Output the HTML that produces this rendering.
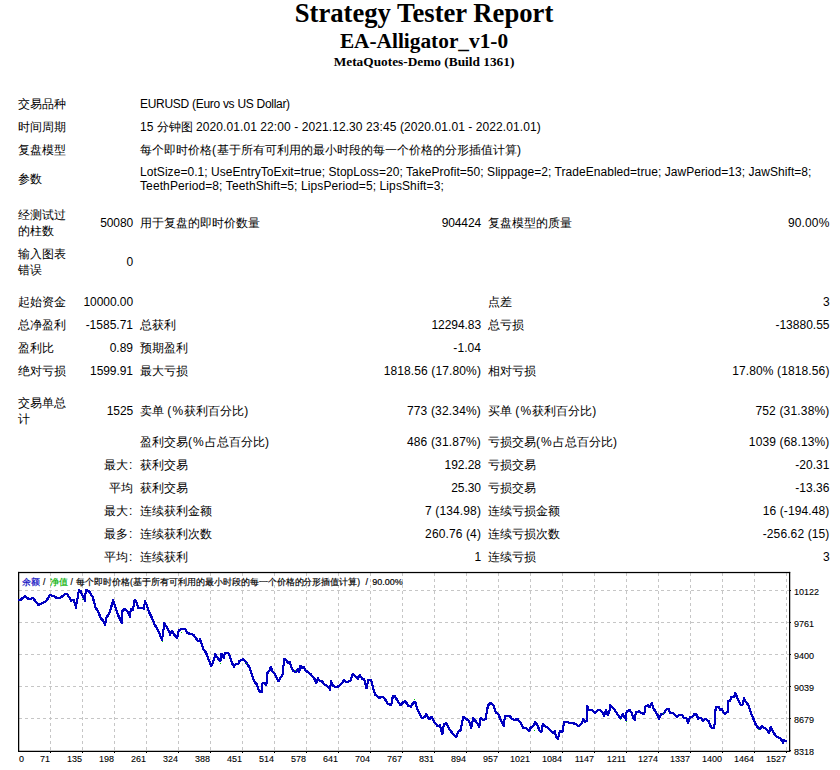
<!DOCTYPE html>
<html lang="zh">
<head>
<meta charset="utf-8">
<title>Strategy Tester: EA-Alligator_v1-0</title>
<style>
html,body{margin:0;padding:0;background:#fff;overflow:hidden;}
body{width:840px;height:770px;position:relative;overflow:hidden;color:#000;
 font-family:"Liberation Sans",sans-serif;font-size:12px;line-height:16px;}
.h{position:absolute;left:8px;width:832px;text-align:center;font-family:"Liberation Serif",serif;font-weight:bold;white-space:nowrap;}
.h1{top:-2px;font-size:26.67px;line-height:30px;}
.h2{top:29px;font-size:21.33px;line-height:24px;}
.h3{top:54px;font-size:13.33px;line-height:16px;}
.r{position:absolute;left:0;width:840px;height:16px;}
.r span{position:absolute;top:0;white-space:nowrap;}
i{font-style:normal;}
.p{letter-spacing:1.1px;}
.k{margin-left:1px;letter-spacing:.6px;}
.a{left:18px;}
.b{right:707px;text-align:right;}
.c{left:140px;}
.d{right:359px;text-align:right;}
.e{left:488px;}
.f{right:10.5px;text-align:right;}
#chart{position:absolute;left:0;top:566px;}
</style>
</head>
<body>
<div class="h h1">Strategy Tester Report</div>
<div class="h h2">EA-Alligator_v1-0</div>
<div class="h h3">MetaQuotes-Demo (Build 1361)</div>

<div class="r" style="top:96px"><span class="a">交易品种</span><span class="c" style="letter-spacing:-0.29px">EURUSD (Euro vs US Dollar)</span></div>
<div class="r" style="top:119px"><span class="a">时间周期</span><span class="c">15 分钟图 <i style="letter-spacing:0.085px">2020.01.01 22:00 - 2021.12.30 23:45 (2020.01.01 - 2022.01.01)</i></span></div>
<div class="r" style="top:142px"><span class="a">复盘模型</span><span class="c">每个即时价格<i class="p">(</i>基于所有可利用的最小时段的每一个价格的分形插值计算<i class="p">)</i></span></div>
<div class="r" style="top:171px"><span class="a">参数</span><span class="c" style="top:-6px;line-height:14px"><i style="letter-spacing:0.05px">LotSize=0.1; UseEntryToExit=true; StopLoss=20; TakeProfit=50; Slippage=2; TradeEnabled=true; JawPeriod=13; JawShift=8;</i><br><i style="letter-spacing:0.107px">TeethPeriod=8; TeethShift=5; LipsPeriod=5; LipsShift=3;</i></span></div>

<div class="r" style="top:215px"><span class="a" style="top:-8px">经测试过<br>的柱数</span><span class="b" style="letter-spacing:-0.12px">50080</span><span class="c">用于复盘的即时价数量</span><span class="d" style="letter-spacing:-0.12px">904424</span><span class="e">复盘模型的质量</span><span class="f" style="letter-spacing:0.14px">90.00%</span></div>
<div class="r" style="top:254px"><span class="a" style="top:-8px">输入图表<br>错误</span><span class="b" style="letter-spacing:-0.12px">0</span></div>

<div class="r" style="top:294px"><span class="a">起始资金</span><span class="b" style="letter-spacing:-0.07px">10000.00</span><span class="e">点差</span><span class="f" style="letter-spacing:-0.12px">3</span></div>
<div class="r" style="top:317px"><span class="a">总净盈利</span><span class="b">-1585.71</span><span class="c">总获利</span><span class="d" style="letter-spacing:-0.07px">12294.83</span><span class="e">总亏损</span><span class="f">-13880.55</span></div>
<div class="r" style="top:340px"><span class="a">盈利比</span><span class="b">0.89</span><span class="c">预期盈利</span><span class="d" style="letter-spacing:0.06px">-1.04</span></div>
<div class="r" style="top:363px"><span class="a">绝对亏损</span><span class="b" style="letter-spacing:-0.06px">1599.91</span><span class="c">最大亏损</span><span class="d" style="letter-spacing:0.12px">1818.56 (17.80%)</span><span class="e">相对亏损</span><span class="f" style="letter-spacing:0.12px">17.80% (1818.56)</span></div>

<div class="r" style="top:403px"><span class="a" style="top:-8px">交易单总<br>计</span><span class="b" style="letter-spacing:-0.12px">1525</span><span class="c">卖单 <i class="p">(%</i>获利百分比)</span><span class="d" style="letter-spacing:0.17px">773 (32.34%)</span><span class="e">买单 <i class="p">(%</i>获利百分比)</span><span class="f" style="letter-spacing:0.17px">752 (31.38%)</span></div>
<div class="r" style="top:434px"><span class="c">盈利交易<i class="p">(%</i>占总百分比)</span><span class="d" style="letter-spacing:0.17px">486 (31.87%)</span><span class="e">亏损交易<i class="p">(%</i>占总百分比)</span><span class="f" style="letter-spacing:0.15px">1039 (68.13%)</span></div>
<div class="r" style="top:457px"><span class="b">最大<i class="k">:</i></span><span class="c">获利交易</span><span class="d" style="letter-spacing:-0.05px">192.28</span><span class="e">亏损交易</span><span class="f" style="letter-spacing:0.03px">-20.31</span></div>
<div class="r" style="top:480px"><span class="b">平均</span><span class="c">获利交易</span><span class="d" style="letter-spacing:-0.04px">25.30</span><span class="e">亏损交易</span><span class="f" style="letter-spacing:0.03px">-13.36</span></div>
<div class="r" style="top:503px"><span class="b">最大<i class="k">:</i></span><span class="c">连续获利金额</span><span class="d" style="letter-spacing:0.12px">7 (134.98)</span><span class="e">连续亏损金额</span><span class="f" style="letter-spacing:0.12px">16 (-194.48)</span></div>
<div class="r" style="top:526px"><span class="b">最多<i class="k">:</i></span><span class="c">连续获利次数</span><span class="d" style="letter-spacing:0.12px">260.76 (4)</span><span class="e">连续亏损次数</span><span class="f" style="letter-spacing:0.12px">-256.62 (15)</span></div>
<div class="r" style="top:549px"><span class="b">平均<i class="k">:</i></span><span class="c">连续获利</span><span class="d" style="letter-spacing:-0.12px">1</span><span class="e">连续亏损</span><span class="f" style="letter-spacing:-0.12px">3</span></div>

<svg id="chart" width="840" height="204" viewBox="0 566 840 204" shape-rendering="crispEdges" font-family="'Liberation Sans', sans-serif">
<path d="M19 590.5H789 M19 622.5H789 M19 654.5H789 M19 686.5H789 M19 718.5H789" stroke="#c6c6c6" stroke-width="1" stroke-dasharray="3 3" fill="none"/>
<path d="M50.5 573V751 M82.5 573V751 M114.5 573V751 M146.5 573V751 M178.5 573V751 M210.5 573V751 M242.5 573V751 M274.5 573V751 M306.5 573V751 M338.5 573V751 M370.5 573V751 M402.5 573V751 M434.5 573V751 M466.5 573V751 M498.5 573V751 M530.5 573V751 M562.5 573V751 M594.5 573V751 M626.5 573V751 M658.5 573V751 M690.5 573V751 M722.5 573V751 M754.5 573V751 M786.5 573V751" stroke="#c6c6c6" stroke-width="1" stroke-dasharray="3 3" fill="none"/>
<g shape-rendering="auto" fill="#000">
<rect x="18" y="571.9" width="772.2" height="1.25"/>
<rect x="18" y="750.75" width="772.2" height="1.25"/>
<rect x="18" y="571.9" width="1.25" height="180.1"/>
<rect x="789" y="571.9" width="1.25" height="180.1"/>
</g>
<path d="M50.5 751V753 M82.5 751V753 M114.5 751V753 M146.5 751V753 M178.5 751V753 M210.5 751V753 M242.5 751V753 M274.5 751V753 M306.5 751V753 M338.5 751V753 M370.5 751V753 M402.5 751V753 M434.5 751V753 M466.5 751V753 M498.5 751V753 M530.5 751V753 M562.5 751V753 M594.5 751V753 M626.5 751V753 M658.5 751V753 M690.5 751V753 M722.5 751V753 M754.5 751V753 M786.5 751V753 M790 590.5H791.3 M790 622.5H791.3 M790 654.5H791.3 M790 686.5H791.3 M790 718.5H791.3 M790 750.5H791.3" stroke="#000" stroke-width="1" fill="none"/>
<g fill="none" stroke="#0000c0" stroke-width="1">
<polyline transform="translate(-0.5 -0.5)" points="18,599.7 20.7,599.7 24.9,596.1 28.7,599.1 33.2,598.2 38.6,605.2 46.2,601 50,594.9 53.8,596.1 57.3,598.2 60.7,597.6 65.2,594.1 67.5,594.6 71.3,600.6 73.6,600.2 75.9,606.7 79,590.3 80.5,591 82.8,596.4 85,600.2 85.8,590 88.9,591 92.7,597.1 95.7,607.8 98,611.6 101,618.5 103.3,620.8 105.2,624.6 106.4,617.7 109.4,613.1 111,607.8 113.2,600.2 115.5,607.8 117.8,614.7 122.1,623 122.4,610.9 124.7,608.6 127,610.9 130,616.2 130.8,609.3 133,610.1 134.6,600.2 136.1,601 138.4,607.8 142.2,607.8 143.7,608.6 145.2,601.7 146,602.9 149,612 152.1,618.1 154.4,624.2 158.2,630.3 162,640.2 164.3,623.4 167.3,628 170.1,634.1 171.9,631 174.2,634.9 177.2,637.9 178.8,630.3 182.6,628.8 185.3,629.5 187.1,632.6 190.2,634.1 193.2,634.6 196.3,638.7 198.6,641.7 200.1,639.4 203.1,648.6 206.2,653.1 208.5,659.2 211.2,666.1 213,662.3 215.3,654.7 217.6,657.7 220.4,661.5 221.4,653.9 223.7,657.7 225,653.1 228.1,652.6 230,656.4 231.9,662.9 233.9,666.4 236.1,664 238.6,663.6 239.3,661.4 242.9,659.3 245,660.7 247.9,665 250,668.6 252.1,675.7 254.3,681.4 256.7,684.3 259,691.4 261.9,691.7 262.4,683.6 264.3,682.9 266.4,685.4 267.1,673.6 269.3,670.7 270.7,667.1 272.9,672.1 274.7,673.6 276.7,677.9 278.6,681.4 280.7,677.4 282.9,674.3 283.9,659.3 286.1,659.7 287.9,662.6 289.6,661.7 291,666.4 293.3,670.7 295.7,672.1 298.1,669.3 299.3,672.1 300.4,665.7 302.4,668.3 303.9,667.1 305,670 310.7,674.3 314.3,678.6 316.4,682.9 318.1,678.6 320,681.4 322.1,681.4 324.3,684.3 327.1,685.7 330,689.3 331,681.4 332.9,685.7 335.7,686.9 338.6,686.4 341.4,683.6 344.3,680 346.7,682.6 350.5,680.3 352.8,674.2 355.8,676.5 358.1,678.8 359.6,675 362.7,679.5 364.2,678.8 366.5,688.7 368.4,679.8 371,679.8 373,687.4 374.9,694.3 379,698.1 381.3,696.6 384.4,698.1 387.4,703.4 391.2,705 392.8,696.6 394.7,695.8 397.3,700.4 400.4,705 403.4,701.9 405.4,701.1 408,705.7 411,706.5 413.3,702.7 415.2,701.9 417.1,708.8 419.4,713.3 421.7,717.9 424.8,717.1 426.3,714.1 429.3,719.4 431.6,717.1 434.7,722.5 437.7,726.3 440,725.5 442.3,734.7 443.8,724 446.1,723.2 449.1,728.6 452.2,733.1 456.3,737 458.3,731.6 460.6,730.1 462.4,721 463.6,716.4 466.7,719.4 469,721 471.2,727.8 473.1,718.7 475,720.2 477.3,723.2 479.2,727 480.7,717.9 483.4,720.2 485.7,718.7 487.3,708.8 488.4,705 490.7,703 493.7,705.7 496,712.6 498.3,714.1 501.3,721 503.6,725.5 505.1,716.4 509,715.6 512,718.7 515,720.2 517.3,718.7 520.4,722.5 523.4,727.8 526.5,728.6 529.1,730.9 531,727 533.3,726.3 535.2,722.5 537.1,724.8 539.4,730.1 541.3,732.4 542.8,724 544.8,726.3 547,727 550.1,730.1 553.1,733.1 554.7,731.6 556.2,737 558,738.5 560,730.9 562.3,732.4 564.1,722.5 566.9,721.7 569.9,723.2 573,723.2 575.7,724 578.3,726.3 581.3,724 583.3,719.4 585.1,721.7 586.7,721 587.1,705.7 589,710.3 591.2,709.5 595,712.6 598.1,710.3 600,710.3 602.3,711.8 604.1,715.6 605.8,710.3 607.6,714.9 609.4,711.8 610.1,705 612.2,707.2 614.5,709.5 616.8,713.3 619,716.4 620.6,717.9 622.6,714.1 624.4,717.1 625.9,719.4 626.7,711 629.7,710.3 631.7,712.6 633.2,717.9 634.7,719.4 635.8,712.6 638.9,711.5 641.1,713 644.2,714.1 645.7,705.7 648,705.4 649.5,707.2 651.8,703.4 653.3,708 655.6,711.8 657.9,715.6 659.1,718.7 661,714.1 664,713.3 666.3,709.5 668.6,709.1 670.4,713.3 672.4,712.6 674.7,714.9 677,717.1 679.2,714.9 682,714.6 683.8,717.9 686.1,717.9 688.1,722.5 689.9,717.1 692.2,717.1 694.5,714.1 696.3,714.6 698.3,718.7 700.6,717.6 703.3,721 705.1,718.7 708.6,721 710.9,727 713.4,728.6 714.7,724 715.4,710.3 716.5,706.9 718.9,706.9 720.5,710.3 722,709.5 723.5,712.6 725.3,713.6 727.6,711.8 728.4,701.1 730.2,700.8 731.4,696.6 733.7,697.3 735.2,693.5 736.8,696.6 739,701.9 741.3,705.4 742.9,704.2 743.9,698.1 745.9,701.9 748.2,705 750.5,711.8 752.8,717.1 755,723.2 757.3,727 759.6,729.3 761.6,726.3 764.2,727.8 766.5,729.3 769.2,733.1 770.6,727 772.6,730.9 774.9,734.7 777.1,737.4 780.2,737.7 782.9,742.3 784,740 787,742"/>
<polyline transform="translate(0.5 -0.5)" points="18,599.7 20.7,599.7 24.9,596.1 28.7,599.1 33.2,598.2 38.6,605.2 46.2,601 50,594.9 53.8,596.1 57.3,598.2 60.7,597.6 65.2,594.1 67.5,594.6 71.3,600.6 73.6,600.2 75.9,606.7 79,590.3 80.5,591 82.8,596.4 85,600.2 85.8,590 88.9,591 92.7,597.1 95.7,607.8 98,611.6 101,618.5 103.3,620.8 105.2,624.6 106.4,617.7 109.4,613.1 111,607.8 113.2,600.2 115.5,607.8 117.8,614.7 122.1,623 122.4,610.9 124.7,608.6 127,610.9 130,616.2 130.8,609.3 133,610.1 134.6,600.2 136.1,601 138.4,607.8 142.2,607.8 143.7,608.6 145.2,601.7 146,602.9 149,612 152.1,618.1 154.4,624.2 158.2,630.3 162,640.2 164.3,623.4 167.3,628 170.1,634.1 171.9,631 174.2,634.9 177.2,637.9 178.8,630.3 182.6,628.8 185.3,629.5 187.1,632.6 190.2,634.1 193.2,634.6 196.3,638.7 198.6,641.7 200.1,639.4 203.1,648.6 206.2,653.1 208.5,659.2 211.2,666.1 213,662.3 215.3,654.7 217.6,657.7 220.4,661.5 221.4,653.9 223.7,657.7 225,653.1 228.1,652.6 230,656.4 231.9,662.9 233.9,666.4 236.1,664 238.6,663.6 239.3,661.4 242.9,659.3 245,660.7 247.9,665 250,668.6 252.1,675.7 254.3,681.4 256.7,684.3 259,691.4 261.9,691.7 262.4,683.6 264.3,682.9 266.4,685.4 267.1,673.6 269.3,670.7 270.7,667.1 272.9,672.1 274.7,673.6 276.7,677.9 278.6,681.4 280.7,677.4 282.9,674.3 283.9,659.3 286.1,659.7 287.9,662.6 289.6,661.7 291,666.4 293.3,670.7 295.7,672.1 298.1,669.3 299.3,672.1 300.4,665.7 302.4,668.3 303.9,667.1 305,670 310.7,674.3 314.3,678.6 316.4,682.9 318.1,678.6 320,681.4 322.1,681.4 324.3,684.3 327.1,685.7 330,689.3 331,681.4 332.9,685.7 335.7,686.9 338.6,686.4 341.4,683.6 344.3,680 346.7,682.6 350.5,680.3 352.8,674.2 355.8,676.5 358.1,678.8 359.6,675 362.7,679.5 364.2,678.8 366.5,688.7 368.4,679.8 371,679.8 373,687.4 374.9,694.3 379,698.1 381.3,696.6 384.4,698.1 387.4,703.4 391.2,705 392.8,696.6 394.7,695.8 397.3,700.4 400.4,705 403.4,701.9 405.4,701.1 408,705.7 411,706.5 413.3,702.7 415.2,701.9 417.1,708.8 419.4,713.3 421.7,717.9 424.8,717.1 426.3,714.1 429.3,719.4 431.6,717.1 434.7,722.5 437.7,726.3 440,725.5 442.3,734.7 443.8,724 446.1,723.2 449.1,728.6 452.2,733.1 456.3,737 458.3,731.6 460.6,730.1 462.4,721 463.6,716.4 466.7,719.4 469,721 471.2,727.8 473.1,718.7 475,720.2 477.3,723.2 479.2,727 480.7,717.9 483.4,720.2 485.7,718.7 487.3,708.8 488.4,705 490.7,703 493.7,705.7 496,712.6 498.3,714.1 501.3,721 503.6,725.5 505.1,716.4 509,715.6 512,718.7 515,720.2 517.3,718.7 520.4,722.5 523.4,727.8 526.5,728.6 529.1,730.9 531,727 533.3,726.3 535.2,722.5 537.1,724.8 539.4,730.1 541.3,732.4 542.8,724 544.8,726.3 547,727 550.1,730.1 553.1,733.1 554.7,731.6 556.2,737 558,738.5 560,730.9 562.3,732.4 564.1,722.5 566.9,721.7 569.9,723.2 573,723.2 575.7,724 578.3,726.3 581.3,724 583.3,719.4 585.1,721.7 586.7,721 587.1,705.7 589,710.3 591.2,709.5 595,712.6 598.1,710.3 600,710.3 602.3,711.8 604.1,715.6 605.8,710.3 607.6,714.9 609.4,711.8 610.1,705 612.2,707.2 614.5,709.5 616.8,713.3 619,716.4 620.6,717.9 622.6,714.1 624.4,717.1 625.9,719.4 626.7,711 629.7,710.3 631.7,712.6 633.2,717.9 634.7,719.4 635.8,712.6 638.9,711.5 641.1,713 644.2,714.1 645.7,705.7 648,705.4 649.5,707.2 651.8,703.4 653.3,708 655.6,711.8 657.9,715.6 659.1,718.7 661,714.1 664,713.3 666.3,709.5 668.6,709.1 670.4,713.3 672.4,712.6 674.7,714.9 677,717.1 679.2,714.9 682,714.6 683.8,717.9 686.1,717.9 688.1,722.5 689.9,717.1 692.2,717.1 694.5,714.1 696.3,714.6 698.3,718.7 700.6,717.6 703.3,721 705.1,718.7 708.6,721 710.9,727 713.4,728.6 714.7,724 715.4,710.3 716.5,706.9 718.9,706.9 720.5,710.3 722,709.5 723.5,712.6 725.3,713.6 727.6,711.8 728.4,701.1 730.2,700.8 731.4,696.6 733.7,697.3 735.2,693.5 736.8,696.6 739,701.9 741.3,705.4 742.9,704.2 743.9,698.1 745.9,701.9 748.2,705 750.5,711.8 752.8,717.1 755,723.2 757.3,727 759.6,729.3 761.6,726.3 764.2,727.8 766.5,729.3 769.2,733.1 770.6,727 772.6,730.9 774.9,734.7 777.1,737.4 780.2,737.7 782.9,742.3 784,740 787,742"/>
<polyline transform="translate(-0.5 0.5)" points="18,599.7 20.7,599.7 24.9,596.1 28.7,599.1 33.2,598.2 38.6,605.2 46.2,601 50,594.9 53.8,596.1 57.3,598.2 60.7,597.6 65.2,594.1 67.5,594.6 71.3,600.6 73.6,600.2 75.9,606.7 79,590.3 80.5,591 82.8,596.4 85,600.2 85.8,590 88.9,591 92.7,597.1 95.7,607.8 98,611.6 101,618.5 103.3,620.8 105.2,624.6 106.4,617.7 109.4,613.1 111,607.8 113.2,600.2 115.5,607.8 117.8,614.7 122.1,623 122.4,610.9 124.7,608.6 127,610.9 130,616.2 130.8,609.3 133,610.1 134.6,600.2 136.1,601 138.4,607.8 142.2,607.8 143.7,608.6 145.2,601.7 146,602.9 149,612 152.1,618.1 154.4,624.2 158.2,630.3 162,640.2 164.3,623.4 167.3,628 170.1,634.1 171.9,631 174.2,634.9 177.2,637.9 178.8,630.3 182.6,628.8 185.3,629.5 187.1,632.6 190.2,634.1 193.2,634.6 196.3,638.7 198.6,641.7 200.1,639.4 203.1,648.6 206.2,653.1 208.5,659.2 211.2,666.1 213,662.3 215.3,654.7 217.6,657.7 220.4,661.5 221.4,653.9 223.7,657.7 225,653.1 228.1,652.6 230,656.4 231.9,662.9 233.9,666.4 236.1,664 238.6,663.6 239.3,661.4 242.9,659.3 245,660.7 247.9,665 250,668.6 252.1,675.7 254.3,681.4 256.7,684.3 259,691.4 261.9,691.7 262.4,683.6 264.3,682.9 266.4,685.4 267.1,673.6 269.3,670.7 270.7,667.1 272.9,672.1 274.7,673.6 276.7,677.9 278.6,681.4 280.7,677.4 282.9,674.3 283.9,659.3 286.1,659.7 287.9,662.6 289.6,661.7 291,666.4 293.3,670.7 295.7,672.1 298.1,669.3 299.3,672.1 300.4,665.7 302.4,668.3 303.9,667.1 305,670 310.7,674.3 314.3,678.6 316.4,682.9 318.1,678.6 320,681.4 322.1,681.4 324.3,684.3 327.1,685.7 330,689.3 331,681.4 332.9,685.7 335.7,686.9 338.6,686.4 341.4,683.6 344.3,680 346.7,682.6 350.5,680.3 352.8,674.2 355.8,676.5 358.1,678.8 359.6,675 362.7,679.5 364.2,678.8 366.5,688.7 368.4,679.8 371,679.8 373,687.4 374.9,694.3 379,698.1 381.3,696.6 384.4,698.1 387.4,703.4 391.2,705 392.8,696.6 394.7,695.8 397.3,700.4 400.4,705 403.4,701.9 405.4,701.1 408,705.7 411,706.5 413.3,702.7 415.2,701.9 417.1,708.8 419.4,713.3 421.7,717.9 424.8,717.1 426.3,714.1 429.3,719.4 431.6,717.1 434.7,722.5 437.7,726.3 440,725.5 442.3,734.7 443.8,724 446.1,723.2 449.1,728.6 452.2,733.1 456.3,737 458.3,731.6 460.6,730.1 462.4,721 463.6,716.4 466.7,719.4 469,721 471.2,727.8 473.1,718.7 475,720.2 477.3,723.2 479.2,727 480.7,717.9 483.4,720.2 485.7,718.7 487.3,708.8 488.4,705 490.7,703 493.7,705.7 496,712.6 498.3,714.1 501.3,721 503.6,725.5 505.1,716.4 509,715.6 512,718.7 515,720.2 517.3,718.7 520.4,722.5 523.4,727.8 526.5,728.6 529.1,730.9 531,727 533.3,726.3 535.2,722.5 537.1,724.8 539.4,730.1 541.3,732.4 542.8,724 544.8,726.3 547,727 550.1,730.1 553.1,733.1 554.7,731.6 556.2,737 558,738.5 560,730.9 562.3,732.4 564.1,722.5 566.9,721.7 569.9,723.2 573,723.2 575.7,724 578.3,726.3 581.3,724 583.3,719.4 585.1,721.7 586.7,721 587.1,705.7 589,710.3 591.2,709.5 595,712.6 598.1,710.3 600,710.3 602.3,711.8 604.1,715.6 605.8,710.3 607.6,714.9 609.4,711.8 610.1,705 612.2,707.2 614.5,709.5 616.8,713.3 619,716.4 620.6,717.9 622.6,714.1 624.4,717.1 625.9,719.4 626.7,711 629.7,710.3 631.7,712.6 633.2,717.9 634.7,719.4 635.8,712.6 638.9,711.5 641.1,713 644.2,714.1 645.7,705.7 648,705.4 649.5,707.2 651.8,703.4 653.3,708 655.6,711.8 657.9,715.6 659.1,718.7 661,714.1 664,713.3 666.3,709.5 668.6,709.1 670.4,713.3 672.4,712.6 674.7,714.9 677,717.1 679.2,714.9 682,714.6 683.8,717.9 686.1,717.9 688.1,722.5 689.9,717.1 692.2,717.1 694.5,714.1 696.3,714.6 698.3,718.7 700.6,717.6 703.3,721 705.1,718.7 708.6,721 710.9,727 713.4,728.6 714.7,724 715.4,710.3 716.5,706.9 718.9,706.9 720.5,710.3 722,709.5 723.5,712.6 725.3,713.6 727.6,711.8 728.4,701.1 730.2,700.8 731.4,696.6 733.7,697.3 735.2,693.5 736.8,696.6 739,701.9 741.3,705.4 742.9,704.2 743.9,698.1 745.9,701.9 748.2,705 750.5,711.8 752.8,717.1 755,723.2 757.3,727 759.6,729.3 761.6,726.3 764.2,727.8 766.5,729.3 769.2,733.1 770.6,727 772.6,730.9 774.9,734.7 777.1,737.4 780.2,737.7 782.9,742.3 784,740 787,742"/>
<polyline transform="translate(0.5 0.5)" points="18,599.7 20.7,599.7 24.9,596.1 28.7,599.1 33.2,598.2 38.6,605.2 46.2,601 50,594.9 53.8,596.1 57.3,598.2 60.7,597.6 65.2,594.1 67.5,594.6 71.3,600.6 73.6,600.2 75.9,606.7 79,590.3 80.5,591 82.8,596.4 85,600.2 85.8,590 88.9,591 92.7,597.1 95.7,607.8 98,611.6 101,618.5 103.3,620.8 105.2,624.6 106.4,617.7 109.4,613.1 111,607.8 113.2,600.2 115.5,607.8 117.8,614.7 122.1,623 122.4,610.9 124.7,608.6 127,610.9 130,616.2 130.8,609.3 133,610.1 134.6,600.2 136.1,601 138.4,607.8 142.2,607.8 143.7,608.6 145.2,601.7 146,602.9 149,612 152.1,618.1 154.4,624.2 158.2,630.3 162,640.2 164.3,623.4 167.3,628 170.1,634.1 171.9,631 174.2,634.9 177.2,637.9 178.8,630.3 182.6,628.8 185.3,629.5 187.1,632.6 190.2,634.1 193.2,634.6 196.3,638.7 198.6,641.7 200.1,639.4 203.1,648.6 206.2,653.1 208.5,659.2 211.2,666.1 213,662.3 215.3,654.7 217.6,657.7 220.4,661.5 221.4,653.9 223.7,657.7 225,653.1 228.1,652.6 230,656.4 231.9,662.9 233.9,666.4 236.1,664 238.6,663.6 239.3,661.4 242.9,659.3 245,660.7 247.9,665 250,668.6 252.1,675.7 254.3,681.4 256.7,684.3 259,691.4 261.9,691.7 262.4,683.6 264.3,682.9 266.4,685.4 267.1,673.6 269.3,670.7 270.7,667.1 272.9,672.1 274.7,673.6 276.7,677.9 278.6,681.4 280.7,677.4 282.9,674.3 283.9,659.3 286.1,659.7 287.9,662.6 289.6,661.7 291,666.4 293.3,670.7 295.7,672.1 298.1,669.3 299.3,672.1 300.4,665.7 302.4,668.3 303.9,667.1 305,670 310.7,674.3 314.3,678.6 316.4,682.9 318.1,678.6 320,681.4 322.1,681.4 324.3,684.3 327.1,685.7 330,689.3 331,681.4 332.9,685.7 335.7,686.9 338.6,686.4 341.4,683.6 344.3,680 346.7,682.6 350.5,680.3 352.8,674.2 355.8,676.5 358.1,678.8 359.6,675 362.7,679.5 364.2,678.8 366.5,688.7 368.4,679.8 371,679.8 373,687.4 374.9,694.3 379,698.1 381.3,696.6 384.4,698.1 387.4,703.4 391.2,705 392.8,696.6 394.7,695.8 397.3,700.4 400.4,705 403.4,701.9 405.4,701.1 408,705.7 411,706.5 413.3,702.7 415.2,701.9 417.1,708.8 419.4,713.3 421.7,717.9 424.8,717.1 426.3,714.1 429.3,719.4 431.6,717.1 434.7,722.5 437.7,726.3 440,725.5 442.3,734.7 443.8,724 446.1,723.2 449.1,728.6 452.2,733.1 456.3,737 458.3,731.6 460.6,730.1 462.4,721 463.6,716.4 466.7,719.4 469,721 471.2,727.8 473.1,718.7 475,720.2 477.3,723.2 479.2,727 480.7,717.9 483.4,720.2 485.7,718.7 487.3,708.8 488.4,705 490.7,703 493.7,705.7 496,712.6 498.3,714.1 501.3,721 503.6,725.5 505.1,716.4 509,715.6 512,718.7 515,720.2 517.3,718.7 520.4,722.5 523.4,727.8 526.5,728.6 529.1,730.9 531,727 533.3,726.3 535.2,722.5 537.1,724.8 539.4,730.1 541.3,732.4 542.8,724 544.8,726.3 547,727 550.1,730.1 553.1,733.1 554.7,731.6 556.2,737 558,738.5 560,730.9 562.3,732.4 564.1,722.5 566.9,721.7 569.9,723.2 573,723.2 575.7,724 578.3,726.3 581.3,724 583.3,719.4 585.1,721.7 586.7,721 587.1,705.7 589,710.3 591.2,709.5 595,712.6 598.1,710.3 600,710.3 602.3,711.8 604.1,715.6 605.8,710.3 607.6,714.9 609.4,711.8 610.1,705 612.2,707.2 614.5,709.5 616.8,713.3 619,716.4 620.6,717.9 622.6,714.1 624.4,717.1 625.9,719.4 626.7,711 629.7,710.3 631.7,712.6 633.2,717.9 634.7,719.4 635.8,712.6 638.9,711.5 641.1,713 644.2,714.1 645.7,705.7 648,705.4 649.5,707.2 651.8,703.4 653.3,708 655.6,711.8 657.9,715.6 659.1,718.7 661,714.1 664,713.3 666.3,709.5 668.6,709.1 670.4,713.3 672.4,712.6 674.7,714.9 677,717.1 679.2,714.9 682,714.6 683.8,717.9 686.1,717.9 688.1,722.5 689.9,717.1 692.2,717.1 694.5,714.1 696.3,714.6 698.3,718.7 700.6,717.6 703.3,721 705.1,718.7 708.6,721 710.9,727 713.4,728.6 714.7,724 715.4,710.3 716.5,706.9 718.9,706.9 720.5,710.3 722,709.5 723.5,712.6 725.3,713.6 727.6,711.8 728.4,701.1 730.2,700.8 731.4,696.6 733.7,697.3 735.2,693.5 736.8,696.6 739,701.9 741.3,705.4 742.9,704.2 743.9,698.1 745.9,701.9 748.2,705 750.5,711.8 752.8,717.1 755,723.2 757.3,727 759.6,729.3 761.6,726.3 764.2,727.8 766.5,729.3 769.2,733.1 770.6,727 772.6,730.9 774.9,734.7 777.1,737.4 780.2,737.7 782.9,742.3 784,740 787,742"/>
</g>
<path d="M82 599h1v1h-1z M162 641h1v1h-1z M181 632h1v1h-1z M220 663h1v1h-1z M246 663h1v1h-1z M295 670h1v1h-1z M414 699h1v1h-1z M534 730h1v1h-1z M620 719h1v1h-1z M626 721h1v1h-1z M663 713h1v1h-1z M758 729h1v1h-1z" fill="#00c000"/>
<g font-size="8.5" shape-rendering="auto" stroke-width="0.18">
<text x="22" y="584.6" fill="#0000c0" stroke="#0000c0">余额</text>
<text x="43" y="584.6" stroke="#000">/</text>
<text x="50" y="584.6" fill="#00b000" stroke="#00b000">净值</text>
<text x="70.5" y="584.6" stroke="#000">/</text>
<text x="76.2" y="584.6" stroke="#000" textLength="284" lengthAdjust="spacing">每个即时价格(基于所有可利用的最小时段的每一个价格的分形插值计算)</text>
<text x="365.5" y="584.6" stroke="#000" font-size="9">/</text>
<text x="372.3" y="584.6" stroke="#000" font-size="9">90.00%</text>
</g>
<g font-size="9" shape-rendering="auto" stroke="#000" stroke-width="0.1">
<text x="19" y="762">0</text>
<text x="50" y="762" text-anchor="end">71</text>
<text x="82" y="762" text-anchor="end">135</text>
<text x="114" y="762" text-anchor="end">198</text>
<text x="146" y="762" text-anchor="end">261</text>
<text x="178" y="762" text-anchor="end">324</text>
<text x="210" y="762" text-anchor="end">388</text>
<text x="242" y="762" text-anchor="end">451</text>
<text x="274" y="762" text-anchor="end">514</text>
<text x="306" y="762" text-anchor="end">578</text>
<text x="338" y="762" text-anchor="end">641</text>
<text x="370" y="762" text-anchor="end">704</text>
<text x="402" y="762" text-anchor="end">767</text>
<text x="434" y="762" text-anchor="end">831</text>
<text x="466" y="762" text-anchor="end">894</text>
<text x="498" y="762" text-anchor="end">957</text>
<text x="530" y="762" text-anchor="end">1021</text>
<text x="562" y="762" text-anchor="end">1084</text>
<text x="594" y="762" text-anchor="end">1147</text>
<text x="626" y="762" text-anchor="end">1211</text>
<text x="658" y="762" text-anchor="end">1274</text>
<text x="690" y="762" text-anchor="end">1337</text>
<text x="722" y="762" text-anchor="end">1400</text>
<text x="754" y="762" text-anchor="end">1464</text>
<text x="786" y="762" text-anchor="end">1527</text>
<text x="794" y="595">10122</text>
<text x="794" y="627">9761</text>
<text x="794" y="659">9400</text>
<text x="794" y="691">9039</text>
<text x="794" y="723">8679</text>
<text x="794" y="755">8318</text>
</g>
</svg>
</body>
</html>
